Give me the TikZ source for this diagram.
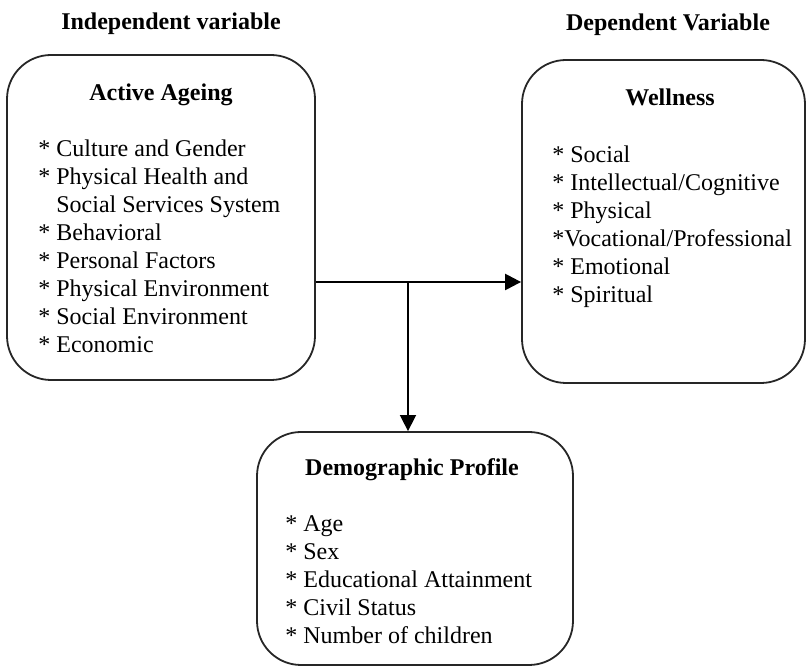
\documentclass[tikz,border=0pt]{standalone}
\usepackage{fontspec}
\setmainfont{Liberation Serif}
\usetikzlibrary{arrows.meta}

\tikzset{
  varbox/.style={draw=black!85, line width=0.9pt, rounded corners=22pt, inner sep=0pt},
  boxtitle/.style={font=\fontsize{12}{14}\selectfont\bfseries, inner sep=0pt, anchor=base},
  itemlist/.style={align=left, inner sep=0pt, anchor=north west},
  flow/.style={-{Triangle[length=8pt,width=8pt]}}
}

\begin{document}
\begin{tikzpicture}[x=0.5pt,y=-0.5pt,font=\fontsize{12}{14}\selectfont]
\useasboundingbox (0,0) rectangle (811,668);
% headings
\node[boxtitle] (indep) at (171,30) {Independent variable};
\node[boxtitle] (dep) at (668,31) {Dependent Variable};
% boxes
\node[varbox, minimum width=154pt, minimum height=162.5pt] (ageing) at (161,217.5) {};
\node[varbox, minimum width=141.5pt, minimum height=161.5pt] (wellness) at (663.5,221.5) {};
\node[varbox, minimum width=158pt, minimum height=116.5pt] (demo) at (415,548.5) {};
% box titles
\node[boxtitle] (ageingtitle) at (161,101) {Active Ageing};
\node[boxtitle] (wellnesstitle) at (670,106) {Wellness};
\node[boxtitle] (demotitle) at (412,476) {Demographic Profile};
% lists
\node[itemlist] (ageinglist) at (38,139) {* Culture and Gender\\
* Physical Health and\\
\phantom{*}\ Social Services System\\
* Behavioral\\
* Personal Factors\\
* Physical Environment\\
* Social Environment\\
* Economic};
\node[itemlist] (wellnesslist) at (552,145) {* Social\\
* Intellectual/Cognitive\\
* Physical\\
*Vocational/Professional\\
* Emotional\\
* Spiritual};
\node[itemlist] (demolist) at (285,515) {* Age\\
* Sex\\
* Educational Attainment\\
* Civil Status\\
* Number of children};
% connectors
\coordinate (split) at (408,282);
\draw[flow, line width=1.2pt] (split -| ageing.east) -- (split -| wellness.west);
\draw[flow, line width=0.8pt] (split) -- (split |- demo.north);
\end{tikzpicture}
\end{document}
